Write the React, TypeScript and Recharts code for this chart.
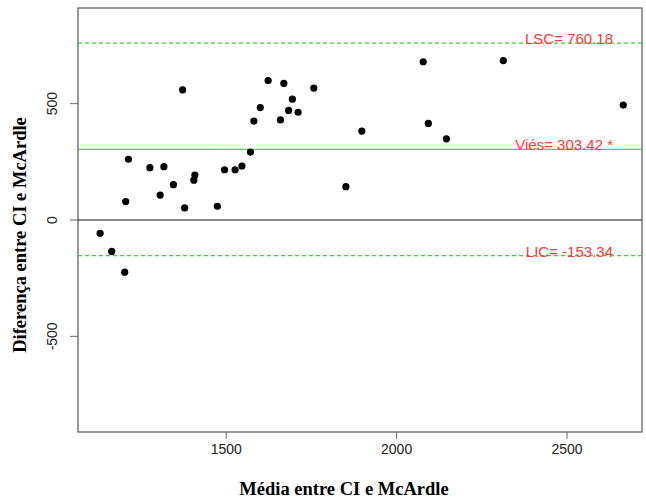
import React from "react";
import {
  ScatterChart,
  Scatter,
  XAxis,
  YAxis,
  ReferenceLine,
  ReferenceArea,
} from "recharts";

// média entre os dois métodos (eixo x)
const meanVals = [
  1130, 1164, 1202, 1205, 1213, 1276, 1306, 1317, 1345, 1372, 1378, 1405,
  1408, 1474, 1495, 1526, 1546, 1571, 1581, 1600, 1623, 1659, 1669, 1683,
  1694, 1711, 1757, 1851, 1898, 2078, 2093, 2146, 2313, 2665,
];
// diferença entre CI e McArdle (eixo y)
const diffVals = [
  -57, -135, -224, 79, 261, 225, 107, 229, 152, 559, 52, 171, 193, 59, 216,
  216, 232, 292, 425, 483, 599, 430, 587, 471, 519, 463, 567, 143, 382, 680,
  415, 349, 685, 494,
];

const xTicks = [1500, 2000, 2500];
const yTicks = [-500, 0, 500];

const bias = 303.42;
const upper = 760.18;
const lower = -153.34;

const xDomain = [1065, 2720];
const yDomain = [-911, 911];

const data = meanVals.map((m, i) => ({ x: m, y: diffVals[i] }));

const sans = "'Liberation Sans', Arial, sans-serif";
const serif = "'Liberation Serif', 'Times New Roman', serif";
const red = "#ff3838";

const lineLabel = (text: string) => (props: any) => {
  const vb = props.viewBox;
  return (
    <text
      x={vb.x + vb.width - 29}
      y={vb.y + 1}
      textAnchor="end"
      fill={red}
      fontFamily={sans}
      fontSize={15}
    >
      {text}
    </text>
  );
};

const YTick = (props: any) => {
  const { y, payload } = props;
  return (
    <text
      x={52}
      y={y}
      transform={`rotate(-90, 52, ${y})`}
      textAnchor="middle"
      dominantBaseline="central"
      fill="#222"
      fontFamily={sans}
      fontSize={14}
    >
      {payload.value}
    </text>
  );
};

const Dot = (props: any) => (
  <circle cx={props.cx} cy={props.cy} r={3.6} fill="#000" />
);

export default function App() {
  return (
    <div style={{ position: "absolute", left: 0, top: 0, background: "#fff" }}>
      <ScatterChart
        width={646}
        height={502}
        margin={{ top: 8, right: 4, bottom: 0, left: 0 }}
      >
        <XAxis
          type="number"
          dataKey="x"
          domain={xDomain}
          ticks={xTicks}
          axisLine={false}
          tickSize={7}
          tickMargin={5}
          tickLine={{ stroke: "#666" }}
          tick={{ fill: "#222", fontFamily: sans, fontSize: 14 }}
          height={70}
          allowDataOverflow
          label={(p: any) => (
            <text
              x={344}
              y={495}
              textAnchor="middle"
              fontFamily={serif}
              fontWeight="bold"
              fontSize={18.5}
              fill="#000"
            >
              Média entre CI e McArdle
            </text>
          )}
        />
        <YAxis
          type="number"
          dataKey="y"
          domain={yDomain}
          ticks={yTicks}
          axisLine={false}
          tickSize={8}
          tickLine={{ stroke: "#666" }}
          tick={YTick}
          width={78}
          allowDataOverflow
          label={(p: any) => (
            <text
              x={26}
              y={235}
              transform="rotate(-90, 26, 235)"
              textAnchor="middle"
              fontFamily={serif}
              fontWeight="bold"
              fontSize={18.5}
              fill="#000"
            >
              Diferença entre CI e McArdle
            </text>
          )}
        />
        <ReferenceArea
          x1={xDomain[0]}
          x2={xDomain[1]}
          y1={yDomain[0]}
          y2={yDomain[1]}
          fill="none"
          stroke="#777"
          strokeWidth={1.5}
          fillOpacity={0}
        />
        <ReferenceLine y={0} stroke="#111" strokeWidth={1.2} />
        <ReferenceLine
          y={bias}
          stroke="#55cc55"
          strokeWidth={1.3}
          label={lineLabel("Viés= 303.42 *")}
        />
        <ReferenceLine
          y={upper}
          stroke="#33d633"
          strokeDasharray="4 3"
          strokeWidth={1.3}
          label={lineLabel("LSC= 760.18")}
        />
        <ReferenceLine
          y={lower}
          stroke="#33d633"
          strokeDasharray="4 3"
          strokeWidth={1.3}
          label={lineLabel("LIC= -153.34")}
        />
        <Scatter data={data} shape={Dot} isAnimationActive={false} />
      </ScatterChart>
    </div>
  );
}
